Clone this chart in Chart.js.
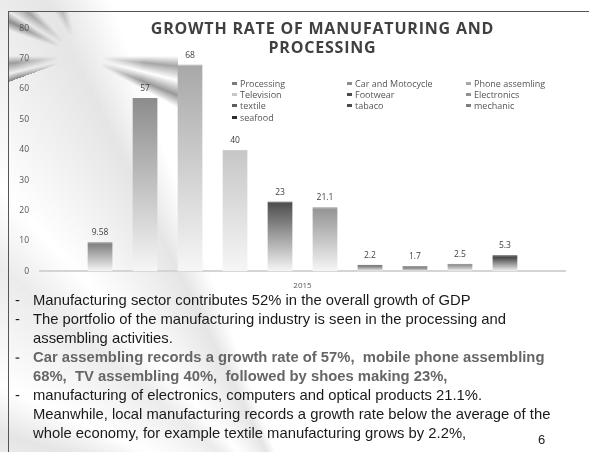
<!DOCTYPE html>
<html>
<head>
<meta charset="utf-8">
<script src="https://cdn.jsdelivr.net/npm/chart.js@4"></script>
<style>
  html, body { margin: 0; padding: 0; background: #fff; }
  #slide {
    position: relative; width: 589px; height: 452px; overflow: hidden;
    background:
      conic-gradient(from 200deg at 300px 520px, transparent 0deg, rgba(0,0,0,0.10) 8deg, transparent 14deg, rgba(0,0,0,0.08) 24deg, transparent 30deg, rgba(0,0,0,0.11) 44deg, transparent 50deg, rgba(0,0,0,0.08) 62deg, transparent 70deg, rgba(0,0,0,0.10) 86deg, transparent 94deg, rgba(0,0,0,0.08) 110deg, transparent 118deg, rgba(0,0,0,0.10) 134deg, transparent 140deg, transparent 360deg),
      #fff;
  }
  #rays {
    position: absolute; left: 8px; top: 12px; width: 170px; height: 100px;
    background: conic-gradient(from 250deg at 72px 44px, rgba(0,0,0,0.45) 0deg, transparent 6deg, rgba(0,0,0,0.35) 14deg, transparent 20deg, transparent 40deg, rgba(0,0,0,0.4) 46deg, transparent 52deg, rgba(0,0,0,0.3) 60deg, transparent 66deg, transparent 80deg, rgba(0,0,0,0.35) 88deg, transparent 96deg, transparent 200deg, rgba(0,0,0,0.35) 206deg, transparent 214deg, rgba(0,0,0,0.4) 222deg, transparent 228deg, transparent 360deg);
    -webkit-mask-image: radial-gradient(circle at 72px 44px, transparent 22px, #000 65px);
    mask-image: radial-gradient(circle at 72px 44px, transparent 22px, #000 65px);
  }
  #frameTop { position: absolute; left: 8px; top: 11px; width: 581px; height: 1px; background: #555; }
  #frameLeft { position: absolute; left: 8px; top: 11px; width: 1px; height: 441px; background: #555; }
  #chartBox { position: absolute; left: 10px; top: 12px; width: 570px; height: 281px; }
  #title {
    position: absolute; left: 120px; width: 405px; top: 19px; text-align: center;
    font-family: "Open Sans", sans-serif; font-weight: bold; font-size: 16px; line-height: 19px;
    letter-spacing: 0.8px; color: #404040;
  }
  #legend {
    position: absolute; left: 232px; top: 78px; width: 360px;
    display: grid; grid-template-columns: 115px 119px 120px;
    font-family: "Open Sans", sans-serif; font-size: 9px; line-height: 11.2px; color: #555;
  }
  #legend span.box { display: inline-block; width: 5px; height: 3px; margin-right: 3px; vertical-align: 2px; }
  #text {
    position: absolute; left: 0; top: 291px; width: 589px;
    font-family: "Liberation Sans", Arial, sans-serif; font-size: 14.8px; line-height: 19px; color: #1a1a1a;
  }
  #text .row { position: relative; padding-left: 33px; white-space: pre; }
  #text .dash { position: absolute; left: 15px; }
  #text .gray { color: #666; font-weight: bold; }
  #page { position: absolute; left: 538px; top: 432px; font-family: "Liberation Sans", Arial, sans-serif; font-size: 13px; color: #222; }
</style>
</head>
<body>
<div id="slide">
  <div id="rays"></div>
  <div id="frameTop"></div>
  <div id="frameLeft"></div>
  <div id="chartBox"><canvas id="chart"></canvas></div>
  <div id="title">GROWTH RATE OF MANUFATURING AND<br>PROCESSING</div>
  <div id="legend"></div>
  <div id="text">
    <div class="row"><span class="dash">-</span>Manufacturing sector contributes 52% in the overall growth of GDP</div>
    <div class="row"><span class="dash">-</span>The portfolio of the manufacturing industry is seen in the processing and</div>
    <div class="row">assembling activities.</div>
    <div class="row gray"><span class="dash">-</span>Car assembling records a growth rate of 57%,  mobile phone assembling</div>
    <div class="row gray">68%,  TV assembling 40%,  followed by shoes making 23%,</div>
    <div class="row"><span class="dash">-</span>manufacturing of electronics, computers and optical products 21.1%.</div>
    <div class="row">Meanwhile, local manufacturing records a growth rate below the average of the</div>
    <div class="row">whole economy, for example textile manufacturing grows by 2.2%,</div>
  </div>
  <div id="page">6</div>
</div>
<script>
// --- Data ---
const CATEGORIES = ['2015'];
const SERIES = ['Processing', 'Car and Motocycle', 'Phone assemling', 'Television', 'Footwear',
  'Electronics', 'textile', 'tabaco', 'mechanic', 'seafood'];
const VALUES = [9.58, 57, 68, 40, 23, 21.1, 2.2, 1.7, 2.5, 5.3];
const COLORS = ['#7a7a7a', '#8c8c8c', '#a8a8a8', '#c6c6c6', '#4a4a4a',
  '#929292', '#5e5e5e', '#4a4a4a', '#7e7e7e', '#2e2e2e'];
const Y_TICKS = [0, 10, 20, 30, 40, 50, 60, 70, 80];

// --- Gradient fill: colour at top, fading to white at the base ---
function barFill(color) {
  return (ctx) => {
    const chart = ctx.chart;
    if (!chart.chartArea || ctx.parsed === undefined) return color;
    const y = chart.scales.y;
    const top = y.getPixelForValue(ctx.parsed.y);
    const base = y.getPixelForValue(0);
    if (!isFinite(top) || base - top < 1) return color;
    const g = chart.ctx.createLinearGradient(0, top, 0, base);
    g.addColorStop(0, color);
    g.addColorStop(1, '#f6f6f6');
    return g;
  };
}

// --- Value labels above each bar ---
const valueLabels = {
  id: 'valueLabels',
  afterDatasetsDraw(chart) {
    const c = chart.ctx;
    c.save();
    c.font = '8.5px "Open Sans", sans-serif';
    c.fillStyle = '#404040';
    c.textAlign = 'center';
    c.textBaseline = 'bottom';
    chart.data.datasets.forEach((ds, i) => {
      chart.getDatasetMeta(i).data.forEach((bar, j) => {
        c.fillText(String(ds.data[j]), bar.x, bar.y - 5);
      });
    });
    c.restore();
  },
};

const chart = new Chart(document.getElementById('chart'), {
  type: 'bar',
  data: {
    labels: CATEGORIES,
    datasets: SERIES.map((name, i) => ({
      label: name,
      data: [VALUES[i]],
      backgroundColor: barFill(COLORS[i]),
      borderColor: COLORS[i],
      borderWidth: { top: 1, left: 0, right: 0, bottom: 0 },
      categoryPercentage: 0.857,
      barPercentage: 0.56,
    })),
  },
  options: {
    responsive: true,
    maintainAspectRatio: false,
    animation: false,
    layout: { padding: { top: 8, right: 15, left: 0, bottom: 0 } },
    scales: {
      x: {
        grid: { display: false },
        border: { display: true, color: '#d4d4d4', width: 2 },
        ticks: { color: '#555', font: { family: 'Open Sans', size: 8 }, padding: 2 },
      },
      y: {
        min: 0,
        max: 80,
        afterBuildTicks: (s) => { s.ticks = Y_TICKS.map((v) => ({ value: v })); },
        afterFit: (s) => { s.width = 30; },
        grid: { display: false, drawTicks: false },
        border: { display: false },
        ticks: { color: '#555', font: { family: 'Open Sans', size: 8.5 }, padding: 11 },
      },
    },
    plugins: { legend: { display: false }, tooltip: { enabled: false } },
  },
  plugins: [valueLabels],
});

// --- HTML legend built from the datasets (3 columns, row-major) ---
const legendEl = document.getElementById('legend');
chart.data.datasets.forEach((ds, i) => {
  const item = document.createElement('div');
  item.innerHTML = '<span class="box" style="background:' + COLORS[i] + '"></span>' + ds.label;
  legendEl.appendChild(item);
});
</script>
</body>
</html>
